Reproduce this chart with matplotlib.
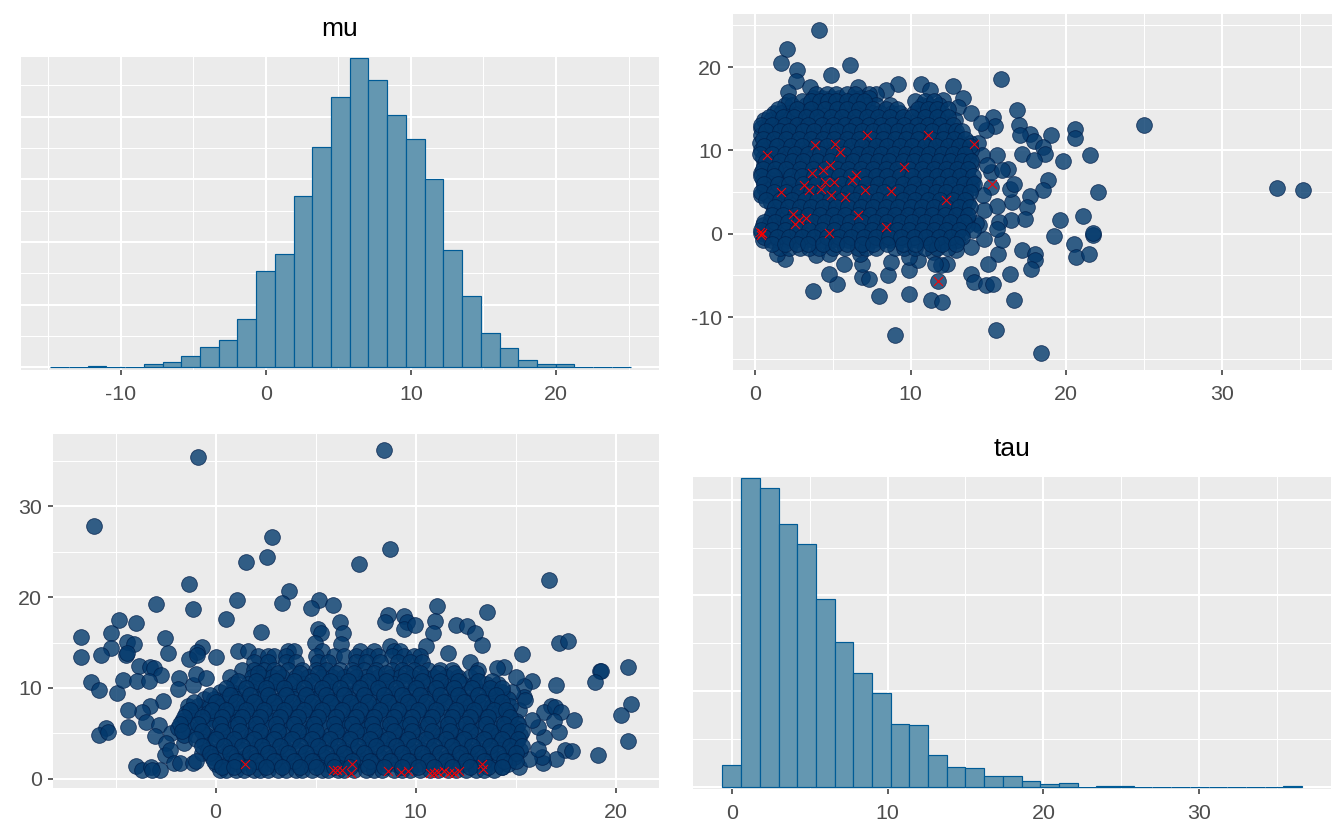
import numpy as np
import matplotlib
matplotlib.use("Agg")
import matplotlib.pyplot as plt

plt.rcParams['font.family'] = ['Liberation Sans', 'DejaVu Sans']
plt.rcParams['axes.unicode_minus'] = False

W, H = 1344, 840

mu_counts = [0,0,2,0,0,5,8,18,32,43,77,153,180,274,351,431,493,458,402,364,300,187,113,54,30,11,6,6,0,0,0]
tau_counts = [46,644,625,548,508,392,302,238,196,131,129,67,42,40,23,23,13,6,8,0,2,2,0,0,0,0,0,0,0,0,2]

# upper right panel: tau on x, mu on y
upper_outliers = [(4.09,24.4),(2.03,22.2),(1.66,20.5),(2.7,19.6),(2.64,18.3),(6.09,20.3),(4.89,19.0),(15.83,18.6),
(9.19,18.0),(10.68,18.0),(11.24,17.3),(12.74,17.7),(13.38,16.3),(6.6,17.6),(3.55,17.6),(2.14,17.0),(8.44,17.3),
(7.8,16.8),(7.3,16.8),(12.1,16.0),(13.03,15.2),(13.86,14.5),(16.82,14.8),(15.27,14.0),(12.87,13.6),(16.98,13.1),
(25.0,13.0),(20.56,12.6),(20.56,11.5),(19.0,11.8),(17.65,12.0),(15.43,12.9),(14.82,12.5),(14.5,13.3),(17.04,11.8),
(17.9,11.1),(18.5,10.4),(18.64,9.6),(17.17,9.6),(17.92,8.9),(19.76,8.7),(21.5,9.4),(15.57,9.4),(16.24,7.8),
(18.83,6.4),(18.53,5.2),(22.03,5.0),(17.65,4.5),(17.49,3.2),(16.5,3.8),(17.36,1.8),(19.57,1.7),(21.04,2.1),
(21.68,-0.2),(21.7,0.1),(19.2,-0.3),(20.5,-1.2),(20.59,-2.8),(21.44,-2.4),(17.17,-2.0),(17.97,-2.4),(17.97,-3.2),
(17.76,-4.2),(16.37,-4.8),(15.6,-2.4),(14.98,-3.6),(13.9,-1.6),(14.69,-0.6),(15.89,-0.7),(16.42,1.6),(15.7,1.4),
(15.57,0.6),(15.57,3.3),(14.7,2.9),(16.37,5.4),(16.64,6.0),(15.17,5.6),(14.64,4.6),(15.17,7.4),(15.89,7.6),
(13.97,6.2),(13.9,-4.8),(14.1,-5.8),(14.85,-6.2),(15.3,-6.0),(16.66,-8.0),(11.3,-8.0),(12.04,-8.2),(11.78,-5.7),
(9.9,-7.2),(7.96,-7.5),(3.71,-6.9),(5.26,-6.0),(8.57,-5.0),(6.89,-5.2),(7.3,-5.4),(4.75,-4.8),(15.51,-11.6),
(9.0,-12.2),(18.4,-14.3),(33.54,5.5),(35.2,5.2),(9.9,-4.3),(8.76,-3.4),(10.44,-3.2),(11.43,-2.2),(12.36,-3.6),
(11.96,-3.8),(11.56,-3.6),(9.9,-2.8),(12.9,-2.0),(12.1,-1.0),(5.69,-3.6),(6.89,-3.6),(6.76,-2.4),(3.95,-2.6),
(1.9,-3.0),(1.4,-2.4),(4.75,-2.4),(14.3,10.9),(14.6,9.4),(14.9,8.2),(14.4,1.0),(14.2,1.3)]

upper_rows = [
(16.3,[3.7,4.3,4.9,5.4,6.3,6.8,7.3]),
(15.4,[1.9,2.4,3.3,3.8,4.4,5.0,5.6,6.1,6.6,7.2,7.8,8.7,10.7,11.2,11.8]),
(14.5,[1.2,1.7,2.2,2.9,3.5,4.1,4.7,5.2,5.8,6.3,6.9,7.5,8.0,8.8,9.3,10.2,10.8,11.4,12.0]),
(13.6,[.6,1.0,1.5,2.0,2.6,3.1,3.7,4.2,4.8,5.5,6.0,6.6,7.1,7.7,8.2,8.9,9.5,10.4,10.9,11.4,11.9]),
(12.7,[.4,.8,1.3,1.9,2.4,3.0,3.5,4.1,4.6,5.2,5.8,6.3,6.9,7.4,8.0,8.5,9.1,9.7,10.3,10.8,11.3,11.9,12.4]),
(11.8,[.4,.9,1.4,1.8,2.3,2.9,3.4,3.9,4.5,5.0,5.6,6.2,6.7,7.3,7.8,8.4,8.9,9.5,10.0,10.6,11.2,11.7,12.3,12.9]),
(10.9,[.3,.7,1.1,1.6,2.1,2.7,3.2,3.8,4.3,4.9,5.4,6.0,6.5,7.1,7.7,8.2,8.8,9.3,9.9,10.4,11.0,11.6,12.1,12.7,13.2,13.8]),
(10.0,[.4,.8,1.3,1.8,2.4,2.9,3.5,4.0,4.6,5.1,5.7,6.3,6.8,7.4,7.9,8.5,9.0,9.6,10.2,10.7,11.3,11.8,12.4,12.9,13.4,13.9]),
(9.1,[.5,1.0,1.5,2.1,2.6,3.2,3.7,4.3,4.8,5.4,5.9,6.5,7.0,7.6,8.2,8.7,9.3,9.8,10.4,10.9,11.5,12.1,12.6,13.1,13.7]),
(8.2,[.6,1.1,1.7,2.2,2.8,3.3,3.9,4.4,5.0,5.6,6.1,6.7,7.2,7.8,8.3,8.9,9.4,10.0,10.6,11.1,11.7,12.2,12.8,13.3,13.9]),
(7.3,[.4,.9,1.4,1.9,2.5,3.0,3.6,4.1,4.7,5.2,5.8,6.4,6.9,7.5,8.0,8.6,9.1,9.7,10.2,10.8,11.4,11.9,12.5,13.0,13.6]),
(6.4,[.5,1.0,1.6,2.1,2.7,3.3,3.8,4.4,4.9,5.5,6.0,6.6,7.1,7.7,8.3,8.8,9.4,9.9,10.5,11.0,11.6,12.1,12.7,13.2,13.8]),
(5.5,[.6,1.1,1.7,2.3,2.8,3.4,3.9,4.5,5.0,5.6,6.2,6.7,7.3,7.8,8.4,8.9,9.5,10.0,10.6,11.2,11.7,12.3,12.8,13.4,13.9]),
(4.6,[.4,.8,1.3,1.9,2.4,3.0,3.5,4.1,4.7,5.2,5.8,6.3,6.9,7.4,8.0,8.6,9.1,9.7,10.2,10.8,11.3,11.9,12.4,13.0,13.5]),
(3.7,[1.0,1.5,2.1,2.6,3.2,3.7,4.3,4.8,5.4,6.0,6.5,7.1,7.6,8.2,8.7,9.3,9.8,10.4,11.0,11.5,12.1,12.6,13.2,13.7]),
(2.8,[1.2,1.7,2.3,2.8,3.4,3.9,4.5,5.1,5.6,6.2,6.7,7.3,7.8,8.4,8.9,9.5,10.1,10.6,11.2,11.7,12.3,12.8,13.4]),
(1.9,[1.0,1.5,2.0,2.6,3.1,3.7,4.2,4.8,5.4,5.9,6.5,7.0,7.6,8.1,8.7,9.2,9.8,10.3,10.9,11.5,12.0,12.6,13.1,13.6]),
(1.0,[.5,.9,1.4,1.9,2.5,3.0,3.6,4.1,4.7,5.3,5.8,6.4,6.9,7.5,8.0,8.6,9.1,9.7,10.3,10.8,11.4,11.9,12.5,13.0,13.6]),
(0.1,[.4,.8,1.3,1.8,2.4,2.9,3.5,4.0,4.6,5.1,5.7,6.2,6.8,7.4,7.9,8.5,9.0,9.6,10.1,10.7,11.2,11.8,12.4,12.9,13.3]),
(-.8,[.5,1.0,1.5,2.1,2.6,3.2,3.7,4.3,4.9,5.4,6.0,6.5,7.1,7.6,8.2,8.7,9.3,9.9,10.4,11.0,11.5,12.1,12.6,13.0]),
(-1.7,[1.6,2.2,2.9,3.5,4.1,5.0,5.8,6.6,7.1,7.8,9.0,9.6,10.3,10.9,11.7,12.4]),
(16.8,[3.9,4.6,5.2,5.9,6.4]),
(15.9,[2.2,3.0,3.6,4.2,4.7,5.2,5.9,6.5,7.0,10.3,10.9,11.5]),
(15.0,[1.5,2.7,3.6,4.5,5.3,5.9,6.7,7.6,8.4,9.1,10.5,11.1,11.7,12.4]),
(14.0,[.9,1.8,2.5,3.3,4.0,4.9,5.6,6.4,7.2,7.9,8.7,9.5,10.1,10.9,11.7,12.4]),
(13.1,[.4,1.1,1.9,2.7,3.4,4.3,5.0,5.8,6.5,7.3,8.1,8.8,9.6,10.4,11.1,11.9,12.7]),
(12.3,[.7,1.6,2.2,3.1,3.8,4.7,5.3,6.1,6.9,7.6,8.3,9.2,9.9,10.6,11.4,12.2,12.9,13.3]),
(11.4,[.5,1.2,2.0,2.8,3.6,4.4,5.1,5.9,6.7,7.5,8.2,9.0,9.7,10.5,11.3,12.1,12.8,13.5]),
(10.5,[.6,1.4,2.3,3.0,3.9,4.6,5.4,6.2,6.9,7.8,8.5,9.3,10.1,10.9,11.6,12.4,13.1,13.8]),
(9.6,[.3,1.1,1.9,2.6,3.4,4.2,5.0,5.7,6.6,7.3,8.1,8.9,9.7,10.4,11.2,12.0,12.7,13.5]),
(8.7,[.7,1.6,2.4,3.1,4.0,4.8,5.5,6.3,7.1,7.9,8.6,9.5,10.2,11.0,11.8,12.5,13.3,13.9]),
(7.8,[.5,1.3,2.0,2.9,3.7,4.5,5.3,6.0,6.8,7.6,8.4,9.1,9.9,10.7,11.5,12.3,13.0,13.7]),
(6.9,[.4,1.2,2.3,3.0,3.8,4.6,5.4,6.2,7.0,7.8,8.5,9.3,10.1,10.9,11.7,12.4,13.2,14.0]),
(6.0,[.6,1.5,2.2,3.1,3.9,4.7,5.5,6.3,7.1,7.9,8.7,9.5,10.3,11.1,11.9,12.6,13.4,14.1]),
(5.0,[.4,1.2,2.0,2.8,3.6,4.4,5.2,6.0,6.8,7.6,8.3,9.2,10.0,10.8,11.6,12.3,13.1,13.8]),
(4.1,[.7,1.6,2.4,3.2,4.0,4.8,5.6,6.4,7.1,7.9,8.7,9.5,10.3,11.1,11.9,12.7,13.5]),
(3.2,[1.3,2.1,2.9,3.6,4.4,5.2,6.0,6.8,7.6,8.4,9.2,10.0,10.7,11.5,12.3,13.1,13.8]),
(2.3,[1.1,1.8,2.6,3.4,4.2,5.0,5.8,6.6,7.4,8.2,9.0,9.8,10.6,11.4,12.2,12.9,13.7]),
(1.4,[.6,1.3,2.1,2.9,3.7,4.5,5.3,6.1,6.9,7.7,8.5,9.3,10.1,10.9,11.7,12.5,13.4]),
(.5,[.4,1.1,1.9,2.7,3.5,4.3,5.1,5.9,6.7,7.5,8.3,9.1,9.9,10.7,11.5,12.3,13.1,14.0]),
(-.4,[.6,1.4,2.2,3.0,3.8,4.6,5.4,6.2,7.0,7.8,8.6,9.4,10.2,11.0,11.8,12.6,13.3]),
(-1.2,[1.1,1.9,2.7,3.4,4.4,5.2,5.9,6.9,7.6,8.5,9.5,10.3,11.3,12.0,12.9]),
]

upper_div_tau = [.80,.35,.42,.48,1.68,2.43,2.54,2.8,3.28,3.15,3.47,3.68,3.87,4.35,4.83,4.22,4.49,5.1,4.89,5.15,5.45,4.73,5.77,6.22,6.52,6.6,7.05,7.21,8.41,8.76,9.59,11.1,11.78,12.26,14.1,15.22]
upper_div_mu = [9.4,.15,-.1,.05,5.0,2.4,1.2,1.7,1.9,5.8,5.2,7.3,10.6,7.7,8.2,5.4,6.2,6.2,4.7,10.8,9.8,.04,4.4,6.5,7.0,2.3,5.2,11.8,.8,5.1,8.0,11.8,-5.7,4.1,10.8,6.0]

# lower left panel: mu on x, tau on y
lower_outliers = [(8.44,36.25),(-.86,35.5),(-6.06,27.8),(2.81,26.6),(2.55,24.4),(1.54,23.9),(8.72,25.3),(7.16,23.6),
(16.69,21.9),(-1.35,21.4),(3.66,20.7),(1.09,19.7),(3.3,19.4),(-2.96,19.3),(-1.14,18.75),(.51,17.6),(-4.82,17.5),
(-3.96,17.2),(-5.23,16.0),(-6.73,15.6),(-2.53,15.5),(-4.41,15.1),(-4.07,14.85),(-5.25,14.4),(-5.72,13.6),(-6.73,13.4),
(-2.36,13.9),(-4.46,13.6),(-4.41,13.8),(-.66,14.5),(-.92,14.0),(-1.35,13.2),(-.92,13.6),(0.0,13.4),(-3.81,12.4),
(-3.28,12.35),(-3.06,12.2),(-2.74,11.4),(-6.24,10.7),(-5.81,9.8),(-4.93,9.4),(-4.65,10.9),(-3.92,10.8),(-3.32,10.8),
(-1.82,11.1),(-1.89,9.85),(-1.14,10.3),(-.99,11.5),(-.49,11.1),(-2.64,8.6),(-3.28,8.0),(-3.67,7.4),(-4.39,7.6),
(-3.49,6.2),(-2.81,5.9),(-4.39,5.7),(-5.46,5.55),(-5.81,4.8),(-5.38,5.1),(-3.02,4.7),(-2.25,5.0),(-2.46,3.9),
(-4.0,1.4),(-3.7,1.0),(-3.24,1.3),(-2.8,.9),(-3.17,.9),(-2.53,2.6),(-2.3,3.2),(-2.1,1.7),(-1.78,1.7),(-1.56,3.9),
(-1.14,1.7),(-.7,2.8),(-.96,2.0),(5.19,19.7),(4.76,18.8),(5.87,19.1),(6.21,17.3),(5.12,16.5),(5.25,16.0),(6.36,16.0),
(6.26,14.85),(4.97,14.9),(8.61,18.05),(8.46,17.3),(9.41,17.9),(9.58,17.3),(9.41,16.5),(9.96,16.9),(11.08,19.0),
(10.99,17.4),(10.89,16.1),(13.59,18.4),(12.0,16.9),(12.58,16.8),(12.96,16.0),(13.31,14.7),(10.52,14.6),(11.63,13.9),
(15.34,13.7),(17.18,15.0),(17.61,15.2),(12.73,12.8),(8.72,14.6),(2.25,16.2),(20.61,12.35),(19.22,11.9),(19.25,11.85),
(18.96,10.6),(17.01,10.3),(15.81,10.8),(15.4,10.2),(15.4,9.0),(20.79,8.2),(20.25,7.05),(16.76,8.0),(16.43,7.3),
(16.97,7.9),(17.29,7.4),(16.9,6.3),(17.18,5.1),(17.93,6.5),(20.61,4.1),(19.11,2.6),(17.46,3.2),(17.83,3.0),(17.01,2.2),
(16.39,1.7),(16.33,2.4),(16.43,4.6),(16.11,5.7),(15.8,6.5),(15.15,7.6),(15.48,8.7),(14.83,9.6),(15.04,11.2),(14.4,12.35),
(14.08,12.2),(13.1,12.0),(15.15,1.3),(14.34,1.3),(15.68,2.2),(16.11,3.3)]

lower_rows = [
(14.1,[1.1,1.6,3.6,3.9,5.3,7.2,7.9,8.9,9.2]),
(13.5,[2.1,2.6,2.9,3.5,5.0,5.9,6.4,7.0,7.6,8.1,8.8,9.4,9.9,10.2]),
(12.8,[1.9,2.6,3.5,4.0,5.1,5.6,7.0,7.5,8.2,9.1,9.7,10.3]),
(12.0,[1.3,1.9,2.4,2.9,3.6,4.3,5.0,5.5,6.2,6.8,7.4,8.0,8.8,9.3,9.9,10.6,11.2,11.8]),
(11.2,[.7,1.8,2.3,2.8,3.3,4.0,4.6,5.3,5.8,6.4,7.0,7.5,8.1,8.7,9.2,9.8,10.4,10.9,11.5,12.1,12.7]),
(10.4,[.9,1.6,2.1,2.7,3.2,3.8,4.4,4.9,5.5,6.1,6.6,7.2,7.8,8.3,8.9,9.5,10.0,10.6,11.2,11.8,12.3,12.9,13.5,14.1]),
(9.6,[.2,.8,1.3,1.9,2.4,3.0,3.6,4.1,4.7,5.3,5.8,6.4,7.0,7.5,8.1,8.6,9.2,9.8,10.3,10.9,11.5,12.0,12.6,13.2,13.8,14.3]),
(8.8,[-.6,-.1,.5,1.1,1.6,2.2,2.7,3.3,3.9,4.4,5.0,5.6,6.1,6.7,7.3,7.8,8.4,8.9,9.5,10.1,10.6,11.2,11.8,12.3,12.9,13.5,14.0,14.6]),
(8.0,[-1.4,-.9,-.3,.3,.8,1.4,2.0,2.5,3.1,3.6,4.2,4.8,5.3,5.9,6.5,7.0,7.6,8.2,8.7,9.3,9.9,10.4,11.0,11.5,12.1,12.7,13.2,13.8,14.3,14.7]),
(7.2,[-1.5,-1.0,-.4,.1,.7,1.2,1.8,2.4,2.9,3.5,4.1,4.6,5.2,5.7,6.3,6.9,7.4,8.0,8.5,9.1,9.7,10.2,10.8,11.3,11.9,12.5,13.0,13.6,14.1,14.6]),
(6.4,[-1.7,-1.2,-.6,0.0,.5,1.1,1.7,2.2,2.8,3.3,3.9,4.5,5.0,5.6,6.2,6.7,7.3,7.8,8.4,9.0,9.5,10.1,10.7,11.2,11.8,12.3,12.9,13.5,14.0,14.6,15.0]),
(5.6,[-1.9,-1.4,-.8,-.2,.3,.9,1.5,2.0,2.6,3.1,3.7,4.3,4.8,5.4,6.0,6.5,7.1,7.6,8.2,8.8,9.3,9.9,10.5,11.0,11.6,12.1,12.7,13.3,13.8,14.4,15.0]),
(4.8,[-1.6,-1.0,-.5,.1,.6,1.2,1.8,2.3,2.9,3.5,4.0,4.6,5.1,5.7,6.3,6.8,7.4,8.0,8.5,9.1,9.6,10.2,10.8,11.3,11.9,12.4,13.0,13.6,14.1,14.7,15.2]),
(4.0,[-.6,-.1,.5,1.0,1.6,2.2,2.7,3.3,3.8,4.4,5.0,5.5,6.1,6.7,7.2,7.8,8.3,8.9,9.5,10.0,10.6,11.1,11.7,12.3,12.8,13.4,14.0,14.5,15.0]),
(3.2,[-.4,.2,.7,1.3,1.9,2.4,3.0,3.5,4.1,4.7,5.2,5.8,6.4,6.9,7.5,8.0,8.6,9.2,9.7,10.3,10.8,11.4,12.0,12.5,13.1,13.7,14.2,14.8,15.2]),
(2.4,[-.2,.3,.9,1.5,2.0,2.6,3.1,3.7,4.3,4.8,5.4,6.0,6.5,7.1,7.6,8.2,8.8,9.3,9.9,10.4,11.0,11.6,12.1,12.7,13.3,13.8,14.4,14.9]),
(1.6,[0.0,.6,1.1,1.7,2.3,2.8,3.4,4.0,4.5,5.1,5.6,6.2,6.8,7.3,7.9,8.5,9.0,9.6,10.1,10.7,11.3,11.8,12.4,12.9,13.5,14.1,14.6]),
(1.0,[.2,.5,1.0,1.4,1.9,2.2,2.6,3.1,3.5,4.0,4.3,4.8,5.3,5.6,6.1,6.4,6.9,7.5,7.9,8.3,8.9,9.3,9.7,10.2,10.7,11.1,11.6,12.0,12.5,13.0,13.4,13.9]),
(11.6,[2.1,3.1,4.2,5.1,6.0,6.9,7.9,8.5,9.5,10.2,11.1,11.9,13.0]),
(10.8,[1.1,2.0,3.0,3.9,4.8,5.7,6.6,7.6,8.5,9.4,10.3,11.2,12.1,13.1,13.8]),
(10.0,[.5,1.5,2.5,3.4,4.4,5.3,6.2,7.2,8.1,9.0,10.0,11.0,11.9,12.8,13.7,14.3]),
(9.2,[-.3,.7,1.7,2.6,3.5,4.5,5.5,6.4,7.4,8.4,9.3,10.2,11.2,12.1,13.1,14.0]),
(8.4,[-1.1,0.0,1.0,1.9,2.9,3.8,4.8,5.7,6.7,7.6,8.6,9.6,10.5,11.4,12.4,13.3,14.3]),
(7.6,[-1.3,-.2,.5,1.5,2.4,3.4,4.4,5.3,6.3,7.2,8.2,9.1,10.1,11.0,12.0,12.9,13.9,14.5]),
(6.8,[-1.6,-.7,.3,1.3,2.2,3.2,4.1,5.1,6.0,7.0,7.9,8.9,9.8,10.8,11.8,12.7,13.6,14.7]),
(6.0,[-1.8,-.9,.2,1.1,2.0,3.0,3.9,4.9,5.9,6.8,7.8,8.7,9.7,10.6,11.6,12.5,13.5,14.4,15.1]),
(5.2,[-1.7,-.7,.3,1.2,2.2,3.1,4.1,5.0,6.0,7.0,7.9,8.9,9.8,10.8,11.7,12.7,13.7,14.6,15.3]),
(4.4,[-1.0,0.0,.9,1.9,2.9,3.8,4.8,5.7,6.7,7.7,8.6,9.6,10.5,11.5,12.4,13.4,14.3,15.1]),
(3.6,[-.7,.4,1.3,2.3,3.2,4.2,5.1,6.1,7.1,8.0,9.0,9.9,10.9,11.8,12.8,13.7,14.7,15.3]),
(2.8,[-.3,.7,1.7,2.6,3.6,4.5,5.5,6.4,7.4,8.4,9.3,10.3,11.2,12.2,13.1,14.1,15.0]),
(2.0,[-.1,1.0,2.0,2.9,3.9,4.8,5.8,6.8,7.7,8.7,9.6,10.6,11.5,12.5,13.4,14.4,15.0]),
(1.3,[.3,.9,1.6,2.5,3.3,4.2,5.0,5.9,6.7,7.6,8.4,9.3,10.1,10.9,11.8,12.7,13.6,14.3]),
]

lower_div_mu = [1.46,5.89,6.06,6.3,6.84,6.79,8.61,9.28,9.64,10.71,10.9,11.14,11.44,11.66,11.94,12.19,13.33,13.37]
lower_div_tau = [1.6,.95,.95,.95,1.6,.66,.85,.77,.85,.6,.66,.77,.88,.66,.66,.88,1.58,1.07]

BAR_FILL, BAR_EDGE = "#6497B1", "#005B96"
PT_FILL, PT_EDGE = "#03396C", "#011F4B"
PANEL = "#EBEBEB"
fig = plt.figure(figsize=(W/100, H/100), dpi=100, facecolor="white")

def panel(left, top, right, bottom, xlim, ylim, xmaj, xmin, ymaj, ymin, show_y):
    ax = fig.add_axes([left/W, 1-bottom/H, (right-left)/W, (bottom-top)/H])
    ax.set_facecolor(PANEL)
    for s in ax.spines.values():
        s.set_visible(False)
    ax.set_xlim(*xlim); ax.set_ylim(*ylim)
    ax.set_xticks(xmaj); ax.set_xticks(xmin, minor=True)
    ax.set_yticks(ymaj); ax.set_yticks(ymin, minor=True)
    ax.set_axisbelow(True)
    ax.grid(which="major", color="white", lw=1.5)
    ax.grid(which="minor", color="white", lw=0.75)
    ax.tick_params(which="minor", length=0)
    ax.tick_params(axis="both", which="major", length=3.4, width=1.1, color="#333333",
                   labelcolor="#4D4D4D", labelsize=15.4)
    ax.tick_params(axis="x", which="major", pad=7.7)
    ax.tick_params(axis="y", which="major", pad=4.5)
    if not show_y:
        ax.tick_params(axis="y", which="major", length=0, labelleft=False)
    return ax

def hist(ax, counts, lo, hi, title, pad):
    edges = np.linspace(lo, hi, len(counts)+1)
    ax.bar(edges[:-1], counts, width=np.diff(edges), align="edge", color=BAR_FILL,
           edgecolor=BAR_EDGE, linewidth=0.85, zorder=3, clip_on=False)
    ax.set_title(title, fontsize=19, color="black", pad=pad)

def scatter(ax, outliers, rows, div_x, div_y):
    xs = [p[0] for p in outliers] + [x for y, r in rows for x in r]
    ys = [p[1] for p in outliers] + [y for y, r in rows for x in r]
    ax.scatter(xs, ys, s=128, c=PT_FILL, edgecolors=PT_EDGE, linewidths=0.6, alpha=0.8, zorder=3)
    ax.scatter(div_x, div_y, s=42, c="red", marker="x", linewidths=0.75, zorder=4)

ax1 = panel(21, 57, 659, 370, (-16.86, 27.1), (-4.3, 495), [-10,0,10,20], [-15,-5,5,15,25],
            [0,100,200,300,400], [50,150,250,350,450], False)
hist(ax1, mu_counts, -14.85, 25.14, "mu", 15)

ax2 = panel(733, 14, 1332, 370, (-1.41, 37.06), (-16.36, 26.37), [0,10,20,30], [5,15,25,35],
            [-10,0,10,20], [-15,-5,5,15,25], True)
scatter(ax2, upper_outliers, upper_rows, upper_div_tau, upper_div_mu)

ax3 = panel(53, 434, 659, 788, (-8.13, 22.17), (-1.03, 37.98), [0,10,20], [-5,5,15],
            [0,10,20,30], [5,15,25,35], True)
scatter(ax3, lower_outliers, lower_rows, lower_div_mu, lower_div_tau)

ax4 = panel(693, 477, 1331, 789, (-2.49, 38.46), (-3.5, 647), [0,10,20,30], [5,15,25,35],
            [0,200,400,600], [100,300,500], False)
hist(ax4, tau_counts, -0.6, 36.6, "tau", 15)

fig.savefig("out.png", dpi=100)
